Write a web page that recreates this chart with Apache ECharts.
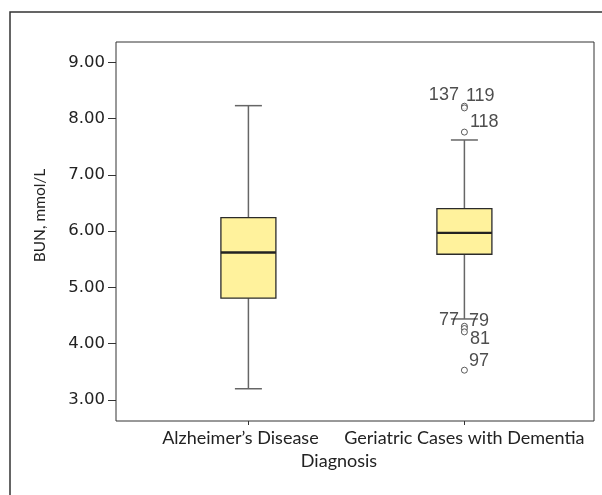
<!DOCTYPE html>
<html>
<head>
<meta charset="utf-8">
<script src="https://cdn.jsdelivr.net/npm/echarts@6/dist/echarts.min.js"></script>
<style>
  html, body { margin: 0; padding: 0; background: #fff; }
  #chart { width: 602px; height: 495px; }
</style>
</head>
<body>
<div id="chart"></div>
<script>
// Diagnosis groups
const categories = ["Alzheimer’s Disease", "Geriatric Cases with Dementia"];

// Box summaries: [lower whisker, Q1, median, Q3, upper whisker]
const alzheimerBox = [3.20, 4.81, 5.62, 6.24, 8.23];
const geriatricBox = [4.44, 5.59, 5.97, 6.40, 7.62];

// Outlying cases (all in the dementia group)
const outlierGroup = [1, 1, 1, 1, 1, 1, 1];
const outlierIds = ["137", "119", "118", "77", "79", "81", "97"];
const outlierValues = [8.22, 8.19, 7.76, 4.31, 4.27, 4.21, 3.53];

// Value axis ticks
const yTicks = [3, 4, 5, 6, 7, 8, 9];

const boxStats = [alzheimerBox, geriatricBox];

// Where each case number sits relative to its circle
const labelPlacement = {
  "137": { position: "left",  offset: [-2, -11] },
  "119": { position: "right", offset: [-2, -12] },
  "118": { position: "right", offset: [2, -10] },
  "77":  { position: "left",  offset: [-2, -6] },
  "79":  { position: "right", offset: [1, -7] },
  "81":  { position: "right", offset: [2, 7] },
  "97":  { position: "right", offset: [1, -9] }
};

const textColor = "#222";
const axisFont = "Lato, 'Open Sans', sans-serif";
const tickFont = "'DejaVu Sans', sans-serif";

const chart = echarts.init(document.getElementById("chart"), null, { renderer: "canvas" });

chart.setOption({
  animation: false,
  backgroundColor: "#fff",
  graphic: [{
    type: "rect",
    shape: { x: 10, y: 12, width: 620, height: 520 },
    style: { fill: "none", stroke: "#333", lineWidth: 1.5 },
    z: 0
  }],
  grid: {
    left: 116, top: 42, right: 8, bottom: 74,
    show: true, borderColor: "#333", borderWidth: 1, backgroundColor: "transparent"
  },
  xAxis: {
    type: "value",
    min: -0.613, max: 1.6,
    splitLine: { show: false },
    axisLine: { show: false, onZero: false },
    axisTick: { show: true, customValues: [0, 1], length: 4, lineStyle: { color: "#333" } },
    axisLabel: {
      customValues: [0, 1],
      // the first group name sits a little left of its tick
      formatter: v => {
        const i = Math.round(v);
        return i === 0 ? "{first|" + categories[i] + "}" : categories[i];
      },
      rich: { first: { padding: [0, 16, 0, 0], color: textColor, fontFamily: axisFont, fontSize: 18 } },
      color: textColor, fontFamily: axisFont, fontSize: 18, margin: 8
    },
    name: "Diagnosis",
    nameLocation: "middle",
    nameGap: 31,
    nameTextStyle: { color: textColor, fontFamily: axisFont, fontSize: 18, padding: [0, 32, 0, 0] }
  },
  yAxis: {
    type: "value",
    min: 2.627, max: 9.361,
    splitLine: { show: false },
    axisLine: { show: false, onZero: false },
    axisTick: { show: true, customValues: yTicks, length: 8, lineStyle: { color: "#333" } },
    axisLabel: {
      customValues: yTicks,
      formatter: v => v.toFixed(2),
      color: textColor, fontFamily: tickFont, fontSize: 16.5, margin: 11
    },
    name: "BUN, mmol/L",
    nameLocation: "middle",
    nameGap: 68,
    nameTextStyle: { color: textColor, fontFamily: axisFont, fontSize: 15.5, padding: [0, 0, 0, 32] }
  },
  series: [
    {
      type: "custom",
      data: boxStats.map((s, i) => [i].concat(s)),
      encode: { x: 0, y: [1, 2, 3, 4, 5] },
      renderItem: function (params, api) {
        const x = api.value(0);
        const lo = api.coord([x, api.value(1)]);
        const q1 = api.coord([x, api.value(2)]);
        const med = api.coord([x, api.value(3)]);
        const q3 = api.coord([x, api.value(4)]);
        const hi = api.coord([x, api.value(5)]);
        const cx = lo[0];
        const boxW = 55, capW = 27;
        const whisker = { stroke: "#666", lineWidth: 1.5 };
        return {
          type: "group",
          children: [
            { type: "line", shape: { x1: cx, y1: hi[1], x2: cx, y2: q3[1] }, style: whisker },
            { type: "line", shape: { x1: cx, y1: q1[1], x2: cx, y2: lo[1] }, style: whisker },
            { type: "line", shape: { x1: cx - capW / 2, y1: hi[1], x2: cx + capW / 2, y2: hi[1] }, style: whisker },
            { type: "line", shape: { x1: cx - capW / 2, y1: lo[1], x2: cx + capW / 2, y2: lo[1] }, style: whisker },
            {
              type: "rect",
              shape: { x: cx - boxW / 2, y: q3[1], width: boxW, height: q1[1] - q3[1] },
              style: { fill: "#FFF29C", stroke: "#2b2b2b", lineWidth: 1.3 }
            },
            {
              type: "line",
              shape: { x1: cx - boxW / 2, y1: med[1], x2: cx + boxW / 2, y2: med[1] },
              style: { stroke: "#222", lineWidth: 2.4 }
            }
          ]
        };
      }
    },
    {
      type: "scatter",
      symbol: "circle",
      symbolSize: 6,
      itemStyle: { color: "#fff", borderColor: "#333", borderWidth: 1 },
      data: outlierValues.map((v, i) => ({
        value: [outlierGroup[i], v],
        label: {
          show: true,
          formatter: outlierIds[i],
          position: labelPlacement[outlierIds[i]].position,
          offset: labelPlacement[outlierIds[i]].offset,
          distance: 0,
          color: textColor,
          fontFamily: "'Liberation Sans', Arial, sans-serif",
          fontSize: 18
        }
      })),
      z: 5
    }
  ]
});
</script>
</body>
</html>
